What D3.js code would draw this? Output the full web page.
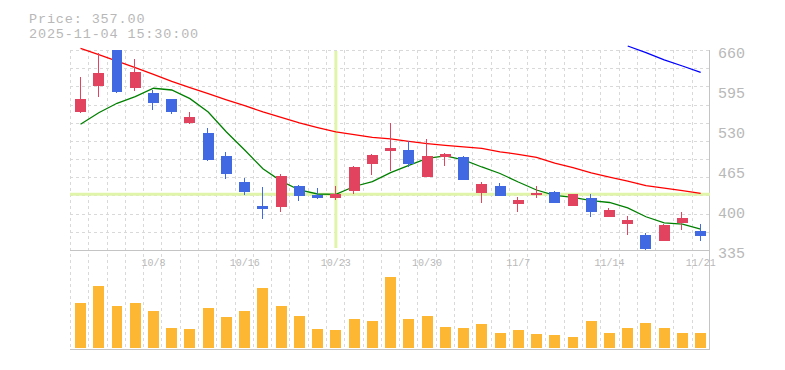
<!DOCTYPE html>
<html><head><meta charset="utf-8">
<script src="https://cdn.jsdelivr.net/npm/d3@7/dist/d3.min.js"></script>
<style>
html,body{margin:0;padding:0;background:#fff;}
svg{display:block;}
text{font-family:"Liberation Mono","DejaVu Sans Mono",monospace;fill:#b8b8b8;}
</style></head>
<body><svg id="c" width="785" height="370"></svg>
<script>
const dates = ["10/2","10/3","10/6","10/7","10/8","10/9","10/10","10/14","10/15","10/16","10/17","10/20","10/21","10/22","10/23","10/24","10/27","10/28","10/29","10/30","10/31","11/4","11/5","11/6","11/7","11/10","11/11","11/12","11/13","11/14","11/17","11/18","11/19","11/20","11/21"];
const xLabels = ["10/8","10/16","10/23","10/30","11/7","11/14","11/21"];
const open  = [560,602,660,599,590,580,542,525,488,446,407,405,439,425,420,431,475,496,498,454,486,486,428,439,410,425,429,407,420,388,378,359,350,379,366];
const high  = [616,655,660,645,595,580,559,534,494,452,437,459,441,436,439,472,491,542,512,515,493,487,446,444,421,439,431,426,426,403,390,363,378,397,377];
const low   = [558,584,590,594,562,556,540,480,451,425,386,396,415,418,417,426,457,464,470,454,472,449,412,423,397,420,412,407,388,388,359,335,350,368,350];
const close = [580,623,591,624,574,560,551,482,459,430,402,455,423,420,426,470,489,500,475,488,491,449,442,423,416,428,412,426,397,400,384,337,376,387,357];
const volume = [450,620,420,450,370,200,190,400,310,370,600,420,320,190,180,290,270,710,290,320,210,200,240,150,180,140,130,110,270,150,200,250,200,150,150];
const ma5  = [539.3,558.1,573.4,584.1,597.8,595,581,559.3,526.8,497.5,467,447,432.5,426,425.5,438.2,446,460.6,472.6,484,487.8,481.3,469.9,459.3,445.5,432.5,423.6,420.6,415.2,412.2,403.3,389,379,376.9,369.1];
const ma25 = [662.8,652.5,642,631.5,620.5,609,599,589,579,569.5,559.5,550.5,541.5,534,527,522.5,518,515.5,511.5,508,505,502.5,500,494.5,490.5,485.5,476,469,460.5,453.5,447,439.5,435.5,431.5,427];
const ma75 = [null,null,null,null,null,null,null,null,null,null,null,null,null,null,null,null,null,null,null,null,null,null,null,null,null,null,null,null,null,null,666.5,655.6,643.8,634,623.8];
const yTicks = [660,595,530,465,400,335];
const priceText = "Price: 357.00";
const timeText = "2025-11-04 15:30:00";
const crossIndex = 14;
const crossPrice = 425.5;

const svg = d3.select("#c");
const n = dates.length;
const x = d3.scaleBand().domain(d3.range(n)).range([71.4, 709.8]).paddingInner(0.4).paddingOuter(0.2);
const cx = i => x(i) + x.bandwidth()/2;
const y = d3.scaleLinear().domain([335,660]).range([250,50]);
const yVol = d3.scaleLinear().domain([0,1000]).range([348,248]);
const gx = d3.scaleLinear().domain([0,35]).range([70,710]);
const gy = d3.scaleLinear().domain([0,11]).range([50,250]);

// grid
const grid = svg.append("g").attr("stroke","#d9d9d9").attr("stroke-dasharray","3,3").attr("shape-rendering","crispEdges");
grid.selectAll("line.v").data(d3.range(35)).join("line")
  .attr("x1",d=>Math.round(gx(d))+0.5).attr("x2",d=>Math.round(gx(d))+0.5)
  .attr("y1",50).attr("y2",350);
grid.selectAll("line.h").data(d3.range(11)).join("line")
  .attr("x1",70).attr("x2",710)
  .attr("y1",d=>Math.round(gy(d))+0.5).attr("y2",d=>Math.round(gy(d))+0.5);

// axis lines
const ax = svg.append("g").attr("stroke","#c4c4c4").attr("shape-rendering","crispEdges");
ax.append("line").attr("x1",70).attr("x2",710).attr("y1",250.5).attr("y2",250.5);
ax.append("line").attr("x1",70).attr("x2",710).attr("y1",349.5).attr("y2",349.5);
ax.append("line").attr("x1",709.5).attr("x2",709.5).attr("y1",50).attr("y2",350);

// crosshair
const ch = svg.append("g").attr("stroke","#e1f5aa").attr("stroke-width",3);
ch.append("line").attr("x1",70).attr("x2",710).attr("y1",y(crossPrice)).attr("y2",y(crossPrice));
ch.append("line").attr("x1",cx(crossIndex)).attr("x2",cx(crossIndex)).attr("y1",51).attr("y2",248);

// volume bars
svg.append("g").selectAll("rect").data(volume).join("rect")
  .attr("x",(d,i)=>x(i)).attr("width",x.bandwidth())
  .attr("y",d=>yVol(d)).attr("height",d=>yVol(0)-yVol(d))
  .attr("fill","#fdb733").attr("shape-rendering","crispEdges");

// MA lines
function maLine(arr,color){
  const line = d3.line().defined(d=>d!=null).x((d,i)=>cx(i)).y(d=>y(d));
  svg.append("path").datum(arr).attr("d",line).attr("fill","none")
    .attr("stroke",color).attr("stroke-width",1.3);
}
maLine(ma25,"#ff0000");
maLine(ma5,"#008000");
maLine(ma75,"#0000ff");

// candles
const up = "#e2445f", down = "#4169e1";
const cg = svg.append("g").attr("shape-rendering","crispEdges");
d3.range(n).forEach(i=>{
  const col = close[i] >= open[i] ? up : down;
  const xm = Math.round(cx(i)) - 0.5;
  cg.append("line").attr("x1",xm).attr("x2",xm).attr("y1",y(high[i])).attr("y2",y(low[i]))
    .attr("stroke",col).attr("stroke-width",1);
  const top = y(Math.max(open[i],close[i])), bot = y(Math.min(open[i],close[i]));
  cg.append("rect").attr("x",x(i)).attr("width",x.bandwidth())
    .attr("y",top).attr("height",Math.max(1,bot-top)).attr("fill",col);
});

// y labels
svg.append("g").selectAll("text").data(yTicks).join("text")
  .attr("x",718).attr("y",d=>y(d)+8).attr("font-size",15).text(d=>d);

// x labels
svg.append("g").selectAll("text").data(xLabels).join("text")
  .attr("x",d=>cx(dates.indexOf(d))).attr("y",266).attr("text-anchor","middle")
  .attr("font-size",10).text(d=>d);

// header
svg.append("text").attr("x",29).attr("y",22.5).attr("font-size",13.5).attr("letter-spacing",0.85).text(priceText);
svg.append("text").attr("x",29).attr("y",37.5).attr("font-size",13.5).attr("letter-spacing",0.85).text(timeText);
</script></body></html>
